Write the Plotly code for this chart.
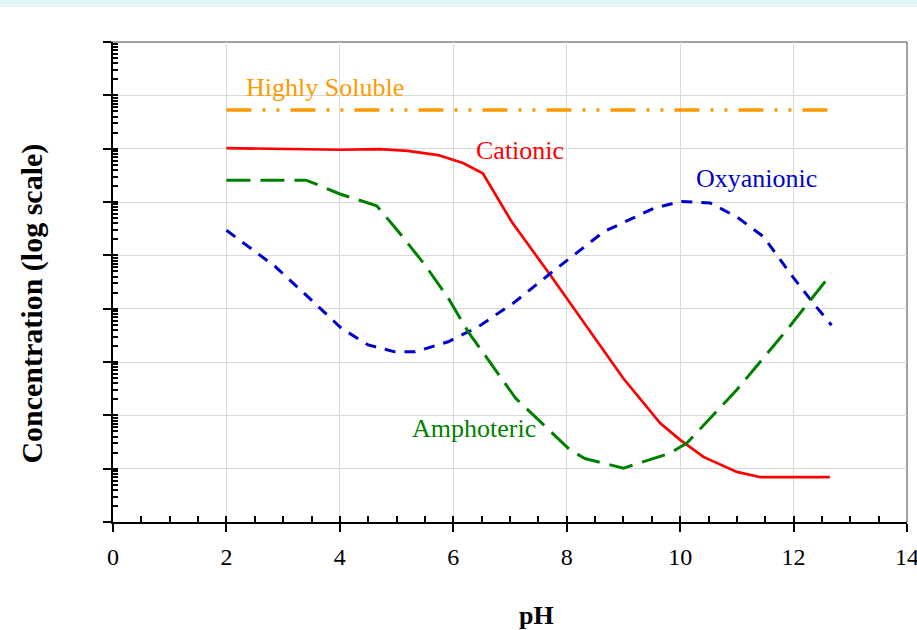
import plotly.graph_objects as go

# ---- data (pH, log10 of concentration) ----
ph_soluble = [2.0, 12.65]
log_soluble = [7.725, 7.725]

ph_cationic = [2.0, 3.0, 4.0, 4.7, 5.2, 5.73, 6.17, 6.52, 7.03, 7.71, 8.35, 9.0, 9.65, 10.0, 10.41, 11.0, 11.42, 12.0, 12.64]
log_cationic = [7.01, 7.0, 6.98, 6.99, 6.96, 6.88, 6.73, 6.54, 5.63, 4.63, 3.66, 2.69, 1.85, 1.54, 1.22, 0.94, 0.84, 0.84, 0.84]

ph_amphoteric = [2.0, 3.4, 3.62, 4.0, 4.65, 5.06, 5.5, 5.91, 6.26, 6.68, 7.1, 8.06, 8.32, 9.0, 9.82, 10.12, 11.0, 11.88, 12.67]
log_amphoteric = [6.41, 6.41, 6.32, 6.15, 5.93, 5.41, 4.82, 4.20, 3.57, 2.94, 2.32, 1.35, 1.19, 1.01, 1.29, 1.48, 2.48, 3.60, 4.66]

ph_oxyanionic = [2.0, 2.86, 3.5, 4.03, 4.5, 4.97, 5.33, 5.91, 6.44, 7.09, 7.71, 8.65, 9.53, 10.0, 10.53, 11.0, 11.47, 11.94, 12.35, 12.67]
log_oxyanionic = [5.47, 4.79, 4.16, 3.63, 3.32, 3.19, 3.19, 3.38, 3.66, 4.13, 4.66, 5.44, 5.88, 6.01, 5.98, 5.72, 5.35, 4.66, 4.10, 3.69]

x_ticks = [0, 2, 4, 6, 8, 10, 12, 14]
x_tick_text = ["0", "2", "4", "6", "8", "10", "12", "14"]

labels = ["Highly Soluble", "Cationic", "Oxyanionic", "Amphoteric"]
label_ph = [3.74, 7.17, 11.34, 6.37]
label_log = [8.14, 6.97, 6.45, 1.76]
colors = ["#FF9900", "#FF0000", "#0000CC", "#008000"]

FONT = "Liberation Serif"


def conc(vals):
    return [10 ** v for v in vals]


fig = go.Figure()
fig.add_trace(go.Scatter(x=ph_soluble, y=conc(log_soluble), mode="lines",
                         line=dict(color=colors[0], width=3.5,
                                   dash="25px,11px,3px,11px,3px,11px"),
                         showlegend=False))
fig.add_trace(go.Scatter(x=ph_cationic, y=conc(log_cationic), mode="lines",
                         line=dict(color=colors[1], width=2.7),
                         showlegend=False))
fig.add_trace(go.Scatter(x=ph_oxyanionic, y=conc(log_oxyanionic), mode="lines",
                         line=dict(color=colors[2], width=3, dash="11px,9px"),
                         showlegend=False))
fig.add_trace(go.Scatter(x=ph_amphoteric, y=conc(log_amphoteric), mode="lines",
                         line=dict(color=colors[3], width=3, dash="24px,10px"),
                         showlegend=False))
# dummy trace so the overlay (inner tick) axes are created
fig.add_trace(go.Scatter(x=[None], y=[None], xaxis="x2", yaxis="y2",
                         mode="lines", showlegend=False, hoverinfo="skip"))

for txt, px, ly, c in zip(labels, label_ph, label_log, colors):
    fig.add_annotation(x=px, y=ly, xref="x", yref="y", text=txt,
                       xanchor="center", yanchor="middle",
                       showarrow=False, font=dict(family=FONT, size=26, color=c))

minor_y = [m * 10 ** k for k in range(0, 9) for m in range(1, 10)] + [1e9]
minor_x = [i * 0.5 for i in range(29)]

fig.update_layout(
    width=917, height=630,
    margin=dict(l=113, r=10, t=42, b=108, autoexpand=False),
    paper_bgcolor="white", plot_bgcolor="white",
    font=dict(family=FONT, color="black"),
    xaxis=dict(range=[0, 14], tickvals=x_ticks, ticktext=x_tick_text,
               ticks="outside", ticklen=8, tickwidth=2, tickcolor="black",
               showline=True, linecolor="black", linewidth=2,
               showgrid=True, gridcolor="#d9d9d9", gridwidth=1, zeroline=False,
               automargin=False, ticklabeloverflow="allow", ticklabelstandoff=4,
               tickfont=dict(family=FONT, size=24, color="black")),
    yaxis=dict(type="log", range=[0, 9], dtick=1,
               ticks="outside", ticklen=8, tickwidth=2, tickcolor="black",
               showticklabels=False, automargin=False,
               showline=True, linecolor="black", linewidth=2,
               showgrid=True, gridcolor="#d9d9d9", gridwidth=1, zeroline=False),
    xaxis2=dict(overlaying="x", anchor="y2", side="bottom", range=[0, 14], tickvals=minor_x,
                ticks="inside", ticklen=6, tickwidth=1.5, tickcolor="black",
                automargin=False,
                showticklabels=False, showgrid=False, showline=False, zeroline=False),
    yaxis2=dict(overlaying="y", anchor="x2", side="left", type="log", range=[0, 9], tickvals=minor_y,
                ticks="inside", ticklen=5, tickwidth=1.5, tickcolor="black",
                automargin=False,
                showticklabels=False, showgrid=False, showline=False, zeroline=False),
)

# axis titles
fig.add_annotation(x=0.534, y=-0.194, xref="paper", yref="paper", text="<b>pH</b>",
                   xanchor="center", yanchor="middle",
                   showarrow=False, font=dict(family=FONT, size=26, color="black"))
fig.add_annotation(x=-0.102, y=0.455, xref="paper", yref="paper",
                   text="<b>Concentration (log scale)</b>", textangle=-90,
                   xanchor="center", yanchor="middle",
                   showarrow=False, font=dict(family=FONT, size=30, color="black"))

# top and right border lines, top banner
fig.add_shape(type="line", xref="paper", yref="paper", x0=-0.01, x1=1, y0=1, y1=1,
              line=dict(color="#808080", width=1.5), layer="below")
fig.add_shape(type="line", xref="paper", yref="paper", x0=1, x1=1, y0=0, y1=1,
              line=dict(color="#808080", width=1.5), layer="below")
fig.add_shape(type="rect", xref="paper", yref="paper", x0=-0.2, x1=1.2,
              y0=1 + 35 / 480, y1=1 + 43 / 480,
              fillcolor="#E0F4FA", line=dict(width=0), layer="below")

fig.write_html("out.html", config={"displayModeBar": False},
               post_script="document.body.style.margin='0px';")
